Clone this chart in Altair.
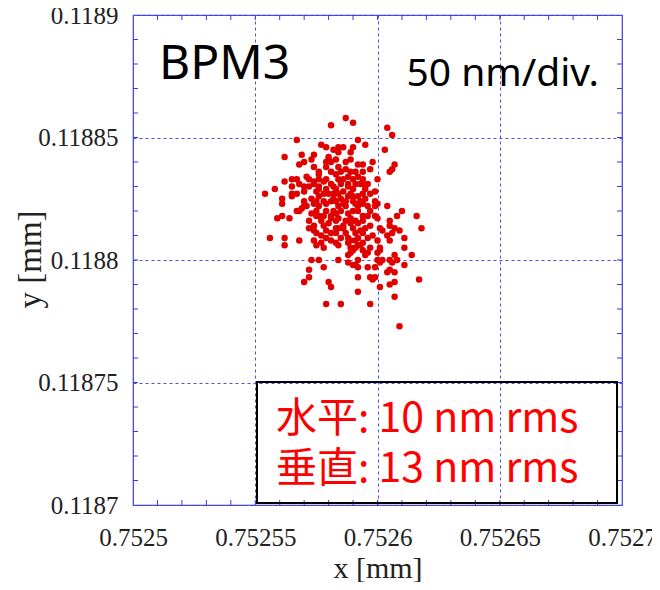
import altair as alt
import pandas as pd

# Beam position readings, offsets in nm from the lower-left corner (0.7525 mm, 0.1187 mm)
x_nm = [81, 87, 90, 104, 106, 67, 92, 95, 103, 77, 79, 82, 84, 86, 62, 69, 74, 80, 80, 81,
        84, 89, 87, 89, 98, 107, 106, 105, 68, 70, 74, 76, 76, 79, 84, 85, 87, 89, 94, 91,
        94, 81, 83, 62, 65, 67, 71, 72, 74, 76, 78, 84, 86, 88, 90, 92, 93, 94, 54, 58,
        61, 61, 65, 65, 65, 70, 70, 72, 74, 76, 76, 79, 80, 82, 83, 84, 86, 88, 89, 90,
        92, 94, 95, 97, 99, 75, 76, 78, 79, 81, 82, 83, 85, 87, 88, 90, 91, 93, 94, 96,
        99, 99, 100, 104, 68, 70, 71, 73, 74, 59, 61, 64, 67, 69, 75, 76, 78, 79, 82, 83,
        85, 87, 88, 90, 92, 94, 96, 99, 100, 72, 74, 75, 77, 78, 80, 81, 83, 84, 86, 87,
        89, 90, 92, 94, 95, 97, 101, 102, 105, 107, 108, 110, 116, 118, 111, 106, 72, 74, 75, 77,
        79, 81, 83, 85, 87, 88, 91, 92, 94, 96, 98, 100, 104, 105, 56, 62, 62, 68, 74, 75,
        78, 83, 89, 92, 94, 97, 101, 111, 73, 76, 84, 78, 72, 72, 70, 80, 81, 88, 89, 88,
        90, 91, 92, 92, 96, 95, 96, 92, 97, 98, 99, 99, 100, 100, 101, 101, 102, 105, 106, 108,
        111, 104, 105, 107, 107, 101, 105, 107, 92, 85, 79, 97, 109, 117, 114, 107, 81, 84, 88, 89,
        91, 93, 94, 109, 91, 77, 90, 90, 105,
        79, 81, 85, 88, 91, 94, 75, 78, 84, 86, 92, 81, 84, 89, 91, 79, 86, 93, 83, 76,
        82, 90, 95, 97, 73, 70, 67, 68, 96, 97, 79, 83, 92, 73, 100]
y_nm = [155, 158, 156, 154, 151, 149, 149, 147, 145, 147, 146, 145, 146, 146, 142, 143, 143, 142, 141, 140,
        144, 144, 140, 141, 140, 139, 137, 136, 139, 140, 138, 136, 135, 138, 138, 136, 137, 136, 139, 136,
        136, 136, 135, 132, 133, 133, 134, 133, 132, 133, 132, 133, 133, 134, 133, 134, 131, 131, 127, 129,
        125, 123, 130, 127, 126, 130, 128, 130, 131, 130, 129, 129, 127, 130, 129, 127, 128, 130, 127, 129,
        126, 127, 129, 127, 128, 124, 126, 124, 123, 124, 125, 124, 125, 124, 126, 124, 123, 124, 123, 122,
        124, 122, 123, 122, 120, 122, 122, 125, 123, 117, 118, 117, 120, 121, 120, 118, 118, 120, 120, 119,
        120, 122, 119, 120, 120, 118, 118, 118, 117, 116, 114, 118, 116, 114, 115, 117, 116, 113, 114, 116,
        115, 113, 115, 116, 113, 114, 113, 112, 114, 113, 118, 120, 118, 113, 109, 111, 113, 112, 111, 110,
        109, 111, 111, 109, 111, 109, 111, 109, 111, 109, 110, 108, 110, 108, 109, 109, 106, 108, 108, 106,
        105, 107, 105, 106, 107, 105, 105, 105, 100, 100, 100, 97, 96, 93, 91, 91, 89, 102, 103, 99,
        98, 98, 97, 100, 103, 102, 97, 93, 93, 92, 93, 97, 100, 103, 104, 99, 100, 100, 99, 100,
        98, 95, 96, 95, 91, 89, 90, 85, 87, 82, 82, 82, 73, 92, 102, 102, 108, 106, 107, 108,
        108, 106, 104, 112, 105, 107, 104, 146, 116,
        133, 131, 131, 131, 131, 133, 128, 127, 122, 123, 122, 118, 117, 117, 116, 112, 113, 112, 113, 122,
        127, 126, 125, 120, 119, 124, 127, 131, 131, 137, 140, 141, 139, 141, 133]

x_ticks = [0.7525, 0.75255, 0.7526, 0.75265, 0.7527]
y_ticks = [0.1187, 0.11875, 0.1188, 0.11885, 0.1189]
title_text = "BPM3"
scale_text = "50 nm/div."
rms_h = "水平: 10 nm rms"
rms_v = "垂直: 13 nm rms"

X0, X1 = 0.7525, 0.7527
Y0, Y1 = 0.1187, 0.1189
df = pd.DataFrame({"x": [X0 + v * 1e-6 for v in x_nm],
                   "y": [Y0 + v * 1e-6 for v in y_nm]})

W, H = 489, 490
BLUE = "#3b3be0"
GRID = "#4f4fe6"
SERIF = "Liberation Serif"

xs = alt.Scale(domain=[X0, X1], nice=False, zero=False)
ys = alt.Scale(domain=[Y0, Y1], nice=False, zero=False)

x_axis = alt.Axis(values=x_ticks, format=".5~f", title="x [mm]", labelFont=SERIF,
                  labelFontSize=25, labelColor="#222", titleFont=SERIF, titleFontSize=30,
                  titleFontWeight="normal", titleColor="#222", labelPadding=20,
                  titleX=W / 2, titleY=72, titleBaseline="alphabetic", titleAlign="center",
                  ticks=False, domain=False, grid=True, gridColor=GRID, gridDash=[3, 3],
                  gridWidth=1, labelFlush=False, labelOverlap=False)
y_axis = alt.Axis(values=y_ticks, format=".5~f", title="y [mm]", labelFont=SERIF,
                  labelFontSize=25, labelColor="#222", titleFont=SERIF, titleFontSize=33,
                  titleFontWeight="normal", titleColor="#222", labelPadding=15,
                  titleX=-103, titleY=244, titleBaseline="middle", titleAlign="center",
                  titleAngle=270,
                  ticks=False, domain=False, grid=True, gridColor=GRID, gridDash=[3, 3],
                  gridWidth=1, labelFlush=False, labelOverlap=False)

points = alt.Chart(df).mark_circle(size=42, color="#e00000", opacity=1).encode(
    x=alt.X("x:Q", scale=xs, axis=x_axis),
    y=alt.Y("y:Q", scale=ys, axis=y_axis),
)

xm = pd.DataFrame({"x": [X0 + k * 1e-5 for k in range(1, 20)]})
ym = pd.DataFrame({"y": [Y0 + k * 1e-5 for k in range(1, 20)]})
tl = 5
ticks_layers = [
    alt.Chart(xm).mark_rule(color=BLUE, strokeWidth=1).encode(
        x=alt.X("x:Q", scale=xs, axis=x_axis), y=alt.value(0), y2=alt.value(tl)),
    alt.Chart(xm).mark_rule(color=BLUE, strokeWidth=1).encode(
        x=alt.X("x:Q", scale=xs, axis=x_axis), y=alt.value(H), y2=alt.value(H - tl)),
    alt.Chart(ym).mark_rule(color=BLUE, strokeWidth=1).encode(
        y=alt.Y("y:Q", scale=ys, axis=y_axis), x=alt.value(0), x2=alt.value(tl)),
    alt.Chart(ym).mark_rule(color=BLUE, strokeWidth=1).encode(
        y=alt.Y("y:Q", scale=ys, axis=y_axis), x=alt.value(W), x2=alt.value(W - tl)),
]

one = pd.DataFrame({"a": [0]})
title_mark = alt.Chart(pd.DataFrame({"t": [title_text]})).mark_text(
    align="left", baseline="alphabetic", font="Noto Sans", fontSize=48, color="black"
).encode(x=alt.value(26), y=alt.value(64), text="t:N")
scale_mark = alt.Chart(pd.DataFrame({"t": [scale_text]})).mark_text(
    align="right", baseline="alphabetic", font="Noto Sans", fontSize=39, color="black"
).encode(x=alt.value(466), y=alt.value(71), text="t:N")
box = alt.Chart(one).mark_rect(fillOpacity=0, stroke="black", strokeWidth=2).encode(
    x=alt.value(124), x2=alt.value(484), y=alt.value(367), y2=alt.value(488))
rms1 = alt.Chart(pd.DataFrame({"t": [rms_h]})).mark_text(
    align="left", baseline="alphabetic", font="Noto Sans CJK JP", fontSize=41, color="#ff0000"
).encode(x=alt.value(143), y=alt.value(417), text="t:N")
rms2 = alt.Chart(pd.DataFrame({"t": [rms_v]})).mark_text(
    align="left", baseline="alphabetic", font="Noto Sans CJK JP", fontSize=41, color="#ff0000"
).encode(x=alt.value(143), y=alt.value(467), text="t:N")

chart = alt.layer(
    points, *ticks_layers, box, title_mark, scale_mark, rms1, rms2
).properties(
    width=W, height=H, autosize=alt.AutoSizeParams(type="none"),
    padding={"left": 125, "top": 7, "right": 30, "bottom": 77},
    background="white",
).configure_view(stroke=BLUE, strokeWidth=1.2)

chart.save("out.html", embed_options={"renderer": "svg", "actions": False})
